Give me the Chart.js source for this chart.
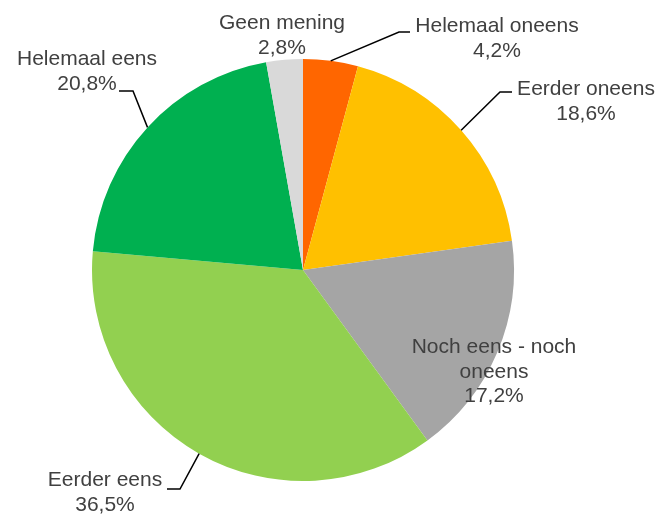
<!DOCTYPE html>
<html>
<head>
<meta charset="utf-8">
<script src="https://cdn.jsdelivr.net/npm/chart.js@4"></script>
<style>
  html, body { margin: 0; padding: 0; background: #fff; }
</style>
</head>
<body>
<canvas id="pie" width="659" height="517"></canvas>
<script>
const categories = ['Helemaal oneens', 'Eerder oneens', 'Noch eens - noch oneens', 'Eerder eens', 'Helemaal eens', 'Geen mening']
const labelLines = [['Helemaal oneens'], ['Eerder oneens'], ['Noch eens - noch', 'oneens'], ['Eerder eens'], ['Helemaal eens'], ['Geen mening']]
const shares = [4.2, 18.6, 17.2, 36.5, 20.8, 2.8]
const colors = ['#FF6600', '#FFC000', '#A5A5A5', '#92D050', '#00B050', '#D9D9D9']

// where each label sits: text centre x, first baseline y, and the leader elbow (null = no leader)
const labelLayout = [
    { tx: 497, ty: 32, elbow: [399, 32], end: [410, 32] },
    { tx: 586, ty: 95, elbow: [500, 92], end: [512, 92] },
    { tx: 494, ty: 353, elbow: null },
    { tx: 105, ty: 486, elbow: [180, 489], end: [167, 489] },
    { tx: 87, ty: 65, elbow: [133, 91], end: [119, 91] },
    { tx: 282, ty: 29, elbow: null }
]

const fmt = v => v.toFixed(1).replace('.', ',') + '%'

const pieLabels = {
    id: 'pieLabels',
    afterDatasetsDraw(chart) {
        const { ctx } = chart
        const arcs = chart.getDatasetMeta(0).data
        ctx.save()
        ctx.font = '21px "Liberation Sans", Arial, sans-serif'
        ctx.textAlign = 'center'
        ctx.textBaseline = 'alphabetic'
        arcs.forEach((arc, i) => {
            const lay = labelLayout[i]
            if (lay.elbow) {
                const mid = (arc.startAngle + arc.endAngle) / 2
                const sx = arc.x + Math.cos(mid) * arc.outerRadius
                const sy = arc.y + Math.sin(mid) * arc.outerRadius
                ctx.strokeStyle = '#000'
                ctx.lineWidth = 1.5
                ctx.beginPath()
                ctx.moveTo(sx, sy)
                ctx.lineTo(lay.elbow[0], lay.elbow[1])
                ctx.lineTo(lay.end[0], lay.end[1])
                ctx.stroke()
            }
            const lines = labelLines[i].concat([fmt(shares[i])])
            ctx.fillStyle = '#404040'
            lines.forEach((t, k) => ctx.fillText(t, lay.tx, lay.ty + k * 24.5))
        })
        ctx.restore()
    }
}

new Chart(document.getElementById('pie'), {
    type: 'pie',
    data: {
        labels: categories,
        datasets: [{ data: shares, backgroundColor: colors, borderWidth: 0 }]
    },
    options: {
        responsive: false,
        animation: false,
        layout: { padding: { top: 59, bottom: 36, left: 92, right: 145 } },
        plugins: { legend: { display: false }, tooltip: { enabled: false } }
    },
    plugins: [pieLabels]
})
</script>
</body>
</html>
